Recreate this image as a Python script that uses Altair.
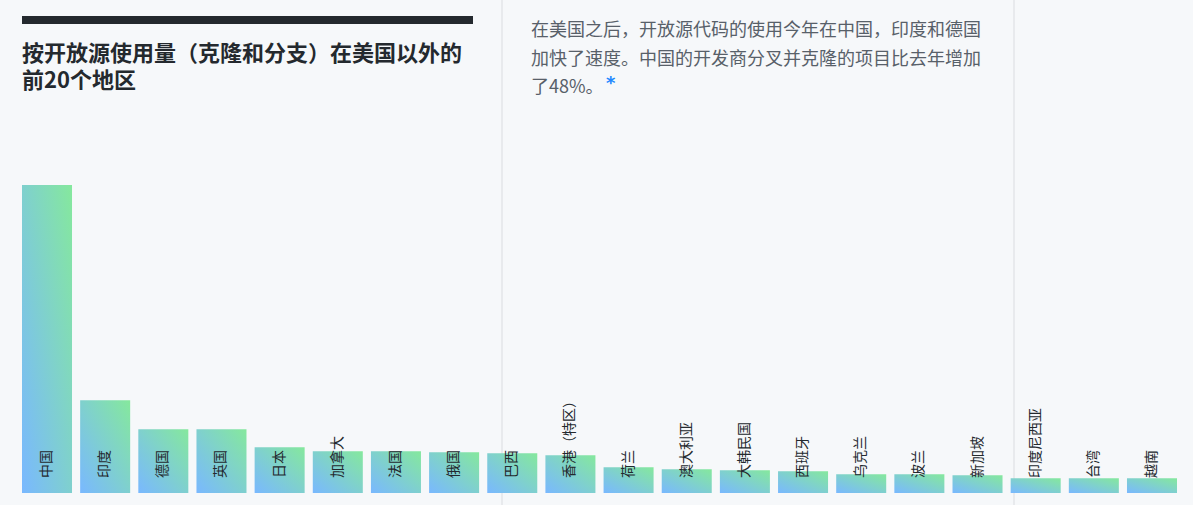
import altair as alt
import pandas as pd

# Regions outside the US, ranked by open source usage (clones and forks); relative values
regions = ["中国", "印度", "德国", "英国", "日本", "加拿大", "法国", "俄国", "巴西", "香港（特区）",
           "荷兰", "澳大利亚", "大韩民国", "西班牙", "乌克兰", "波兰", "新加坡", "印度尼西亚", "台湾", "越南"]
usage = [308, 92.7, 63.7, 63.7, 45.7, 41.7, 41.7, 40.7, 39.7, 37.7,
         25.7, 23.7, 22.7, 21.7, 18.7, 18.7, 17.7, 14.7, 14.7, 14.7]

title_lines = ["按开放源使用量（克隆和分支）在美国以外的", "前20个地区"]
note_lines = ["在美国之后，开放源代码的使用今年在中国，印度和德国",
              "加快了速度。中国的开发商分叉并克隆的项目比去年增加",
              "了48%。"]

df = pd.DataFrame({"region": regions, "usage": usage})

FONT = "Noto Sans CJK SC"
W, H = 1193, 505

xscale = alt.Scale(range=[22, 1177], paddingInner=0.14, paddingOuter=0)
yscale = alt.Scale(domain=[0, 308], range=[493, 185])

grad = alt.Gradient(
    gradient="linear",
    stops=[alt.GradientStop(color="#79b8ff", offset=0),
           alt.GradientStop(color="#85e89d", offset=1)],
    x1=0, y1=1, x2=1, y2=0,
)

base = alt.Chart(df)
bars = base.mark_bar(color=grad).encode(
    x=alt.X("region:N", sort=None, scale=xscale, axis=None),
    y=alt.Y("usage:Q", scale=yscale, axis=None),
)
labels = base.mark_text(angle=270, align="left", baseline="middle", font=FONT,
                        fontSize=14, color="#24292e").encode(
    x=alt.X("region:N", sort=None, scale=xscale, axis=None),
    y=alt.value(478),
    text="region:N",
)

one = alt.Chart(pd.DataFrame({"k": [0]}))
dividers = alt.layer(
    one.mark_rule(color="#e8eaed", strokeWidth=2).encode(x=alt.value(502), y=alt.value(0), y2=alt.value(H)),
    one.mark_rule(color="#e8eaed", strokeWidth=2).encode(x=alt.value(1014), y=alt.value(0), y2=alt.value(H)),
)
topbar = one.mark_rect(color="#24292e").encode(
    x=alt.value(22), x2=alt.value(473), y=alt.value(16), y2=alt.value(24))

title_layers = [
    one.mark_text(text=t, align="left", baseline="alphabetic", font=FONT, fontSize=22,
                  fontWeight="bold", color="#24292e").encode(x=alt.value(22), y=alt.value(yy))
    for t, yy in zip(title_lines, [61, 88])
]
note_layers = [
    one.mark_text(text=t, align="left", baseline="middle", font=FONT, fontSize=18,
                  color="#586069").encode(x=alt.value(531), y=alt.value(yy))
    for t, yy in zip(note_lines, [31, 59.5, 88])
]
star = one.mark_text(text="*", align="left", baseline="middle", font="DejaVu Sans", fontSize=18,
                     fontWeight="bold", color="#2188ff").encode(x=alt.value(606), y=alt.value(84))

chart = alt.layer(dividers, topbar, bars, labels, *title_layers, *note_layers, star).properties(
    width=W, height=H, background="#f6f8fa", padding=0,
    autosize=alt.AutoSizeParams(type="none"),
).configure_view(stroke=None)

chart.save("out.html", embed_options={"renderer": "svg", "actions": False})
